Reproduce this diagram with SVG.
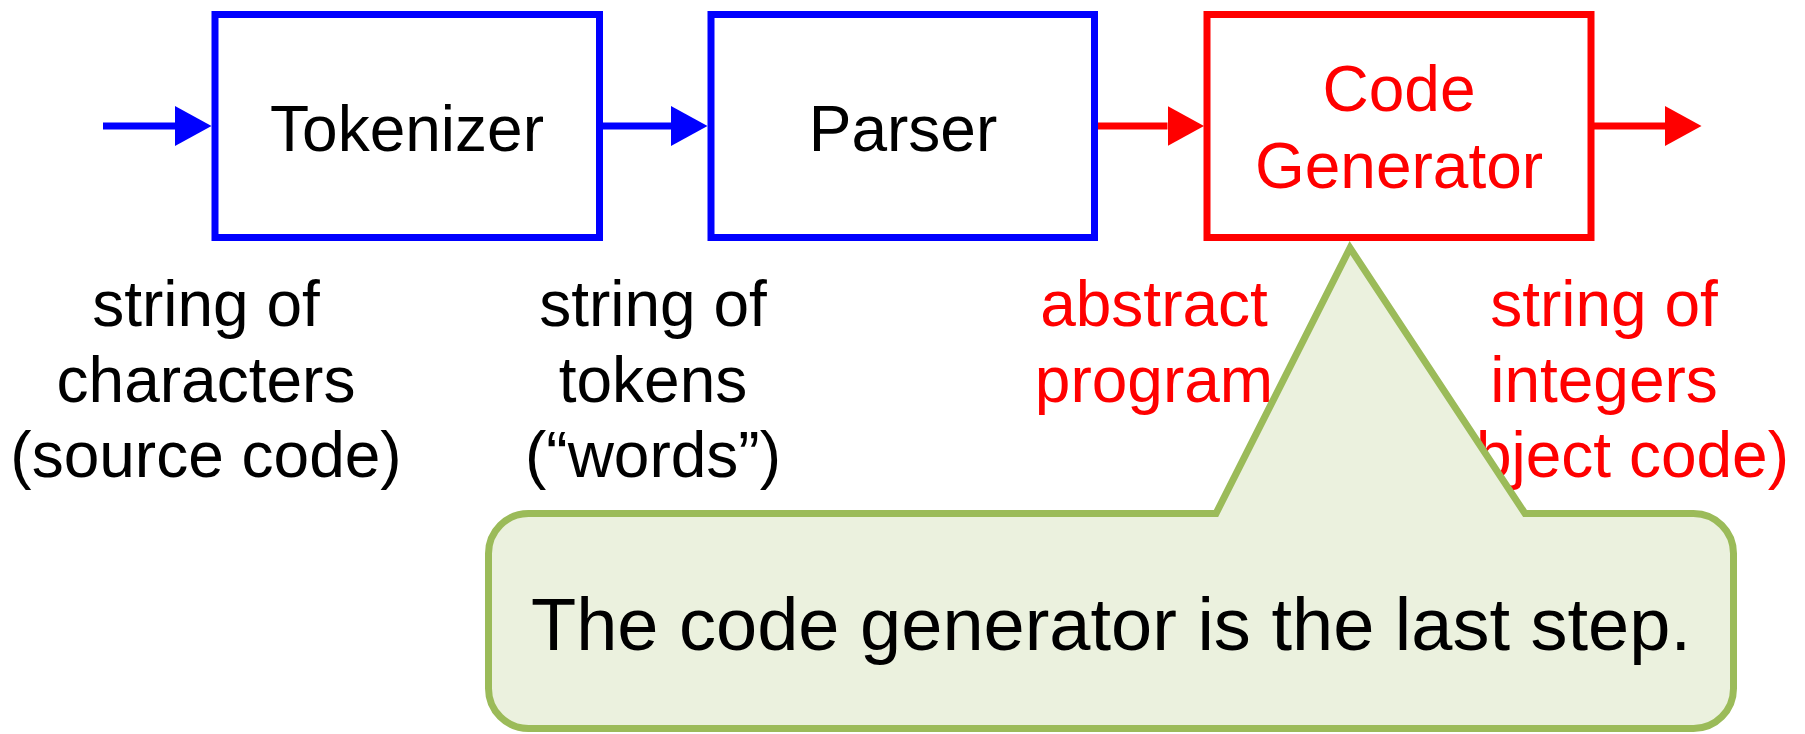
<svg xmlns="http://www.w3.org/2000/svg" width="1805" height="734" viewBox="0 0 1805 734">
<defs>
<style>
text{font-family:"Liberation Sans",Arial,sans-serif;font-size:64px;text-anchor:middle}
.blk{fill:#000}
.red{fill:#FF0000}
.bbox{fill:#fff;stroke:#0000FF;stroke-width:7}
.rbox{fill:#fff;stroke:#FF0000;stroke-width:7}
.bl{stroke:#0000FF;stroke-width:7;fill:none}
.rl{stroke:#FF0000;stroke-width:7;fill:none}
.callout{fill:#EBF1DE;stroke:#9BBB59;stroke-width:7;stroke-linejoin:miter;stroke-miterlimit:10}
</style>
<marker id="ab" markerUnits="userSpaceOnUse" markerWidth="37" markerHeight="40" viewBox="0 -20 37 40" refX="0" refY="0" orient="auto"><path d="M0,-20 L36.5,0 L0,20 Z" fill="#0000FF"/></marker>
<marker id="ar" markerUnits="userSpaceOnUse" markerWidth="37" markerHeight="40" viewBox="0 -20 37 40" refX="0" refY="0" orient="auto"><path d="M0,-20 L36.5,0 L0,20 Z" fill="#FF0000"/></marker>
</defs>
<g id="connectors">
<line class="bl" x1="103" y1="126" x2="175" y2="126" marker-end="url(#ab)"/>
<line class="bl" x1="600" y1="126" x2="671" y2="126" marker-end="url(#ab)"/>
<line class="rl" x1="1096" y1="126" x2="1167.5" y2="126" marker-end="url(#ar)"/>
<line class="rl" x1="1592" y1="126" x2="1665" y2="126" marker-end="url(#ar)"/>
</g>
<g id="tokenizer">
<rect class="bbox" x="215" y="14.5" width="384.5" height="223"/>
<text class="blk" x="407" y="151">Tokenizer</text>
</g>
<g id="parser">
<rect class="bbox" x="711" y="14.5" width="383.5" height="223"/>
<text class="blk" x="903" y="151">Parser</text>
</g>
<g id="codegen">
<rect class="rbox" x="1207" y="14.5" width="384" height="223"/>
<text class="red" x="1399" y="111">Code</text>
<text class="red" x="1399" y="188">Generator</text>
</g>
<g id="label-source">
<text class="blk" x="206" y="326">string of</text>
<text class="blk" x="206" y="402">characters</text>
<text class="blk" x="206" y="477">(source code)</text>
</g>
<g id="label-tokens">
<text class="blk" x="653" y="326">string of</text>
<text class="blk" x="653" y="402">tokens</text>
<text class="blk" x="653" y="477">(“words”)</text>
</g>
<g id="label-abstract">
<text class="red" x="1154" y="326">abstract</text>
<text class="red" x="1154" y="402">program</text>
</g>
<g id="label-object">
<text class="red" x="1604" y="326">string of</text>
<text class="red" x="1604" y="402">integers</text>
<text class="red" x="1604" y="477">(object code)</text>
</g>
<g id="callout">
<path class="callout" d="M528.5,513.5 H1216 L1350,248 L1525,513.5 H1693.5 A40,40 0 0 1 1733.5,553.5 V688.5 A40,40 0 0 1 1693.5,728.5 H528.5 A40,40 0 0 1 488.5,688.5 V553.5 A40,40 0 0 1 528.5,513.5 Z"/>
<text class="blk" x="1111" y="650" style="font-size:74px">The code generator is the last step.</text>
</g>
</svg>
